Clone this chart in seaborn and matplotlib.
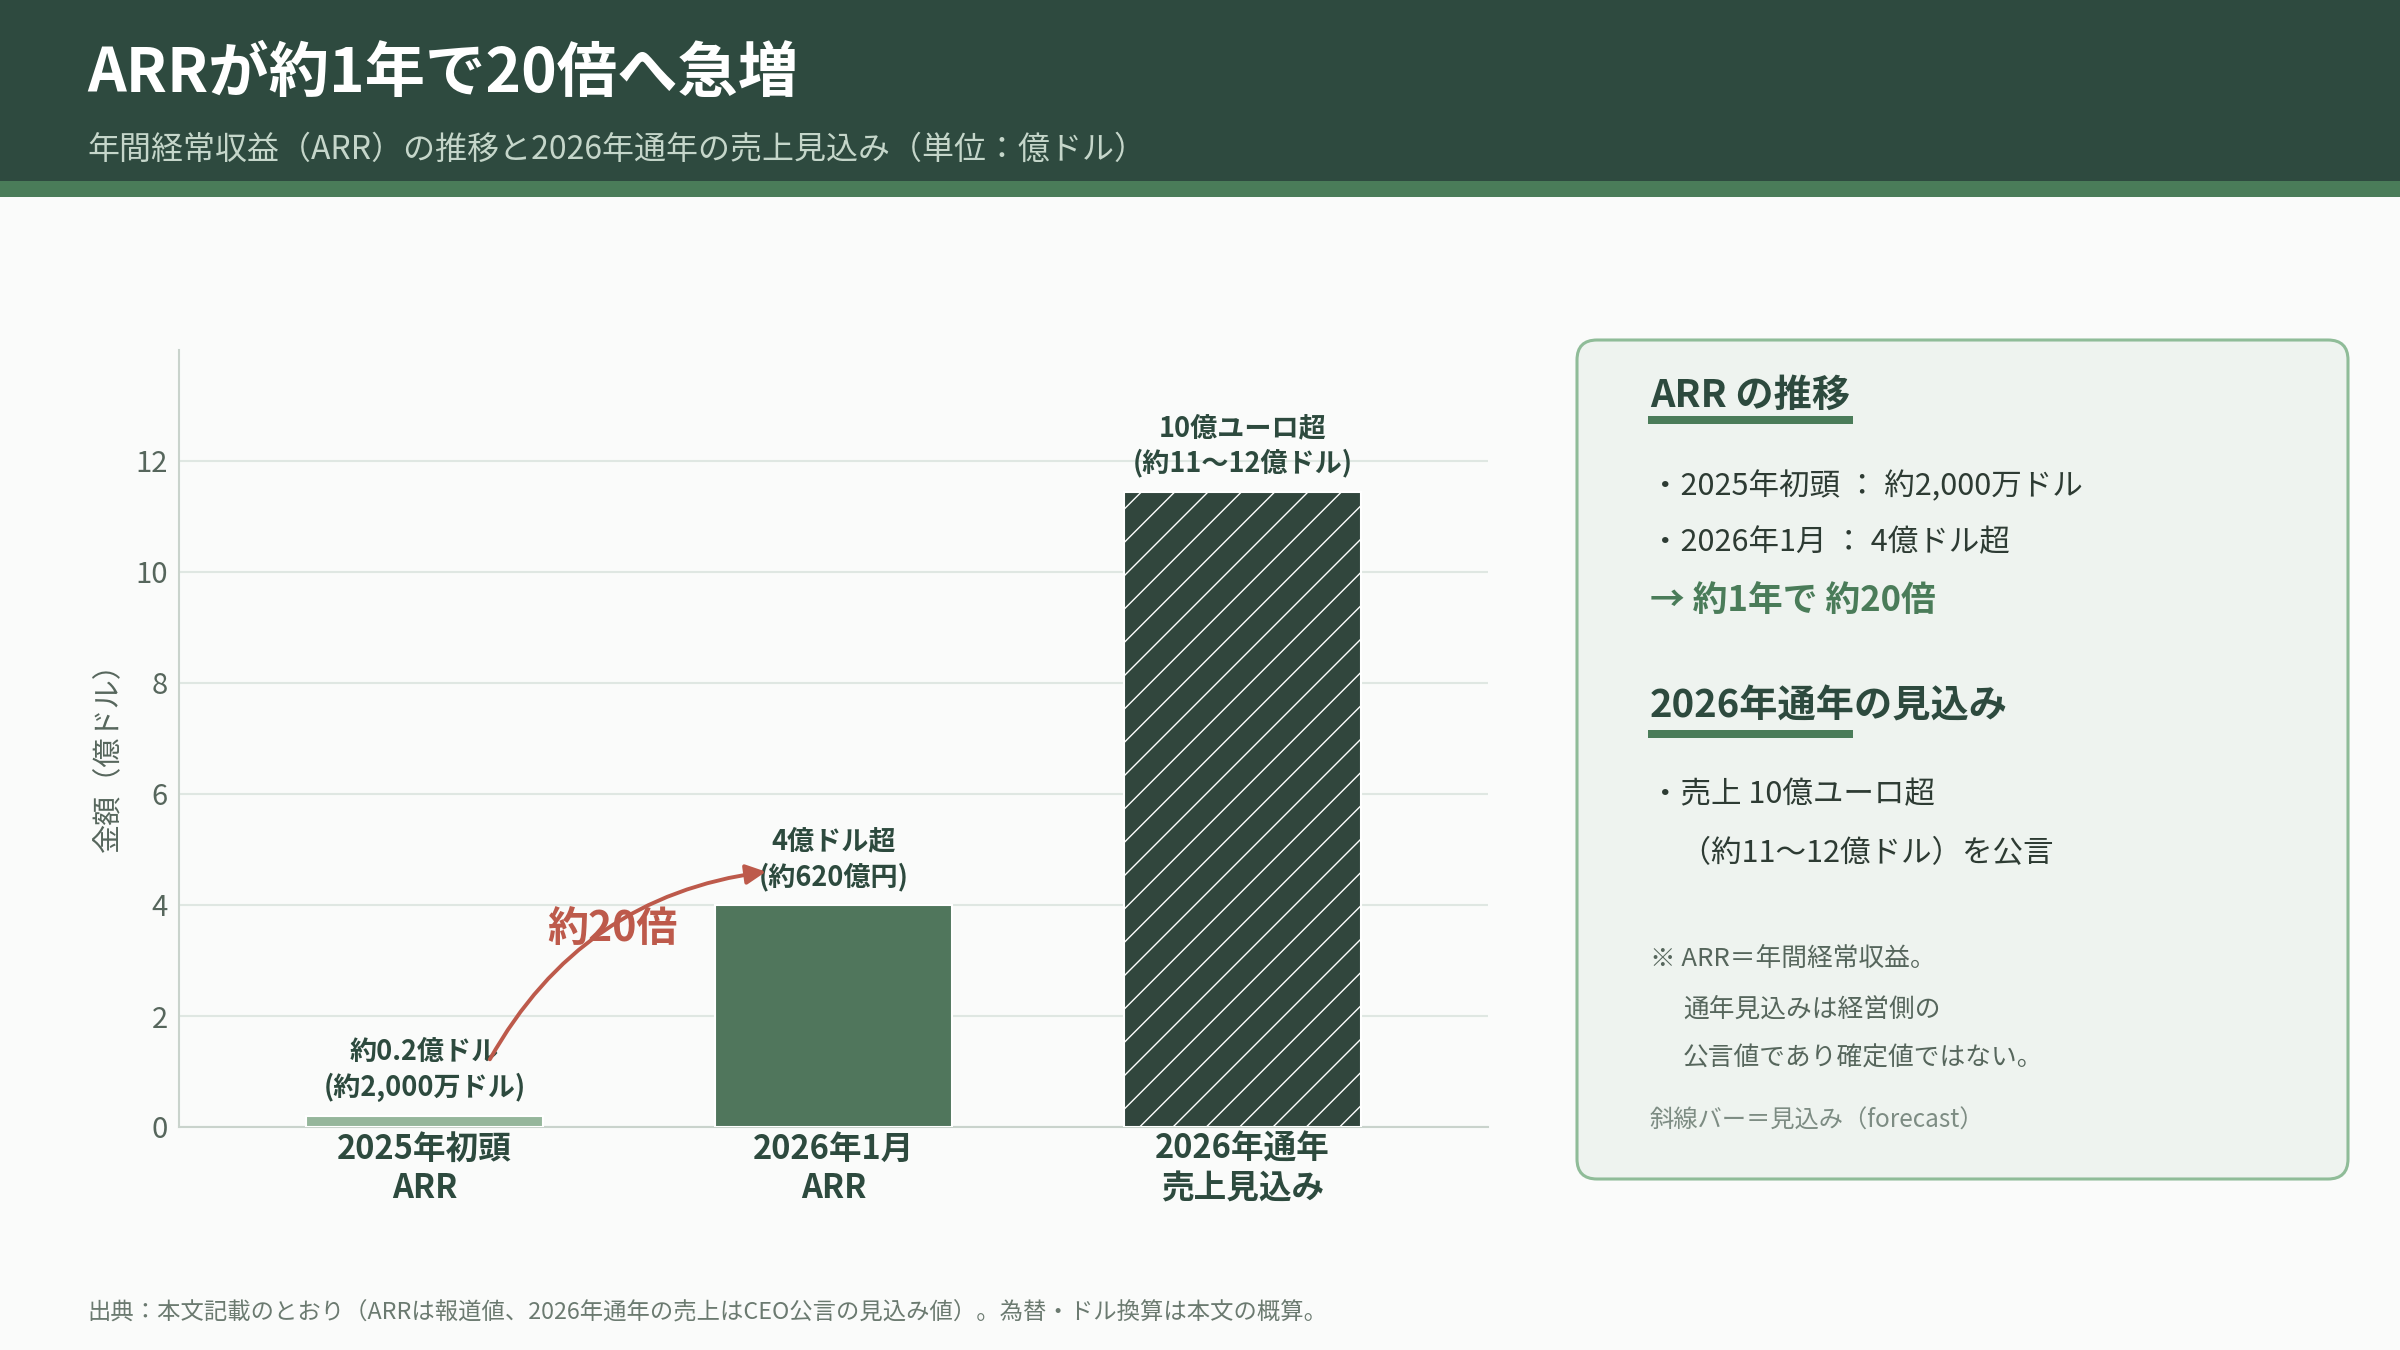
import matplotlib
matplotlib.use('Agg')
import matplotlib.pyplot as plt
from matplotlib.patches import Rectangle, FancyBboxPatch
import pandas as pd
import seaborn as sns

# chart data
categories = ['2025年初頭\nARR', '2026年1月\nARR', '2026年通年\n売上見込み']
values = [0.2, 4.0, 11.45]
value_labels = ['約0.2億ドル\n(約2,000万ドル)', '4億ドル超\n(約620億円)', '10億ユーロ超\n(約11〜12億ドル)']
is_forecast = [False, False, True]
y_ticks = [0, 2, 4, 6, 8, 10, 12]

title = 'ARRが約1年で20倍へ急増'
subtitle = '年間経常収益（ARR）の推移と2026年通年の売上見込み（単位：億ドル）'
footer = '出典：本文記載のとおり（ARRは報道値、2026年通年の売上はCEO公言の見込み値）。為替・ドル換算は本文の概算。'

panel_head_1 = 'ARR の推移'
panel_items_1 = ['・2025年初頭 ： 約2,000万ドル', '・2026年1月 ： 4億ドル超']
panel_emph = '→ 約1年で 約20倍'
panel_head_2 = '2026年通年の見込み'
panel_items_2 = ['・売上 10億ユーロ超', '　（約11〜12億ドル）を公言']
panel_notes = ['※ ARR＝年間経常収益。', '通年見込みは経営側の', '公言値であり確定値ではない。']
panel_legend = '斜線バー＝見込み（forecast）'

# colours
BG = '#fafbfa'
DARK = '#2e4a3f'
MID = '#4a7c59'
LIGHT = '#8fbc98'
RED = '#bd5a4b'
TEXT = '#2d3b33'
GRAY = '#56665c'
bar_colors = ['#8fbc98', '#4a7c59', '#2d4a3e']

sns.set_theme(style='white')
plt.rcParams['font.family'] = ['Noto Sans CJK JP', 'DejaVu Sans']
plt.rcParams['hatch.linewidth'] = 1.0

W, H = 2400, 1350


def fx(px):
    return px / W


def fy(py):
    return 1 - py / H


fig = plt.figure(figsize=(24, 13.5), dpi=100, facecolor=BG)

# header band
fig.patches.append(Rectangle((0, fy(181)), 1, 181 / H, transform=fig.transFigure,
                             facecolor=DARK, edgecolor='none', zorder=0))
fig.patches.append(Rectangle((0, fy(197)), 1, 16 / H, transform=fig.transFigure,
                             facecolor=MID, edgecolor='none', zorder=0))
fig.text(fx(87), fy(74), title, color='white', fontsize=43.5, fontweight='bold', va='center')
fig.text(fx(87), fy(150), subtitle, color='#c5d6ca', fontsize=23, va='center')

# bar chart
ax = fig.add_axes([fx(179), fy(1127), (1488 - 179) / W, (1127 - 350) / H])
ax.set_facecolor(BG)
df = pd.DataFrame({'category': categories, 'value': values})
sns.barplot(data=df, x='category', y='value', hue='category', palette=bar_colors,
            width=0.58, legend=False, edgecolor='white', linewidth=1.5, ax=ax, zorder=3)

# forecast bar gets the diagonal hatch
for patch, fc in zip(ax.patches, is_forecast):
    if fc:
        patch.set_hatch('/')

ax.set_xlim(-0.6, 2.6)
ax.set_ylim(0, 14)
ax.set_yticks(y_ticks)
ax.yaxis.grid(True, color='#dfe7e2', linewidth=1.5, zorder=0)
ax.xaxis.grid(False)
ax.set_axisbelow(True)
for side in ['top', 'right']:
    ax.spines[side].set_visible(False)
for side in ['left', 'bottom']:
    ax.spines[side].set_color('#c9d3cc')
    ax.spines[side].set_linewidth(1.5)
ax.tick_params(axis='y', length=0, pad=8, labelsize=21, labelcolor=GRAY)
ax.tick_params(axis='x', length=0, pad=4)
ax.set_xlabel('')
ax.set_ylabel('金額（億ドル）', fontsize=21, color=GRAY)
ax.yaxis.set_label_coords((124 - 179) / (1488 - 179), 0.485)
for lbl in ax.get_xticklabels():
    lbl.set_fontsize(23.5)
    lbl.set_fontweight('bold')
    lbl.set_color('#2d4a3e')
    lbl.set_linespacing(1.25)

for i, (v, lab) in enumerate(zip(values, value_labels)):
    ax.annotate(lab, xy=(i, v), xytext=(0, 10), textcoords='offset points',
                ha='center', va='bottom', fontsize=19.5, fontweight='bold',
                color='#2d4a3e', linespacing=1.3, zorder=5)

# growth arrow between the two ARR bars
ax.annotate('', xy=(0.835, values[1] + 0.6), xytext=(0.16, values[0] + 1.02),
            arrowprops=dict(arrowstyle='-|>', color=RED, lw=2.8, mutation_scale=30,
                            connectionstyle='arc3,rad=-0.25', shrinkA=0, shrinkB=0),
            zorder=6)
ax.text(0.46, 3.57, '約20倍', color=RED, fontsize=29.5, fontweight='bold',
        ha='center', va='center', zorder=6)

# side panel
inch = fig.dpi_scale_trans
panel = FancyBboxPatch((1577 / 100, (H - 1179) / 100), (2348 - 1577) / 100, (1179 - 340) / 100,
                       boxstyle='round,pad=0,rounding_size=0.2', transform=inch,
                       facecolor='#eef3ef', edgecolor=LIGHT, linewidth=2.2, zorder=0)
fig.patches.append(panel)

fig.text(fx(1650), fy(395), panel_head_1, fontsize=27.5, fontweight='bold', color='#2d4a3e', va='center')
fig.patches.append(Rectangle((fx(1648), fy(424)), 205 / W, 8 / H, transform=fig.transFigure,
                             facecolor=MID, edgecolor='none'))
for y, txt in zip([486, 543], panel_items_1):
    fig.text(fx(1650), fy(y), txt, fontsize=22, color=TEXT, va='center')
fig.text(fx(1650), fy(601), panel_emph, fontsize=25, fontweight='bold', color=MID, va='center')

fig.text(fx(1650), fy(706), panel_head_2, fontsize=27.5, fontweight='bold', color='#2d4a3e', va='center')
fig.patches.append(Rectangle((fx(1648), fy(738)), 205 / W, 8 / H, transform=fig.transFigure,
                             facecolor=MID, edgecolor='none'))
for y, txt in zip([795, 854], panel_items_2):
    fig.text(fx(1650), fy(y), txt, fontsize=22, color=TEXT, va='center')

for (x, y), txt in zip([(1650, 959), (1683, 1010), (1683, 1059)], panel_notes):
    fig.text(fx(x), fy(y), txt, fontsize=18.5, color=GRAY, va='center')
fig.text(fx(1650), fy(1121), panel_legend, fontsize=17.5, color='#7d8c83', va='center')

# footer
fig.text(fx(87), fy(1313), footer, fontsize=16.8, color='#6b7a70', va='center')

fig.savefig('out.png', dpi=100, facecolor=BG)
